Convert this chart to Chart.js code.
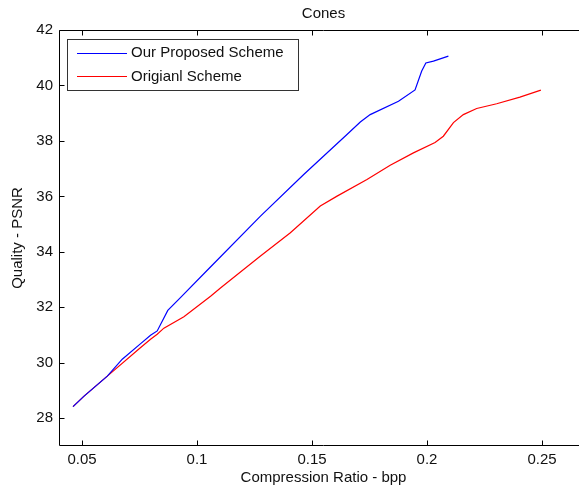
<!DOCTYPE html>
<html>
<head>
<meta charset="utf-8">
<script src="https://cdn.jsdelivr.net/npm/chart.js@4/dist/chart.umd.min.js"></script>
<style>
html,body{margin:0;padding:0;background:#fff;overflow:hidden;}
#wrap{width:579px;height:490px;overflow:hidden;position:relative;}
canvas{display:block;}
</style>
</head>
<body>
<div id="wrap"><canvas id="c" width="600" height="490"></canvas></div>
<script>
const chartTitle = 'Cones';
const xAxisTitle = 'Compression Ratio - bpp';
const yAxisTitle = 'Quality - PSNR';
const seriesNames = ['Our Proposed Scheme', 'Origianl Scheme'];

const xTicks = [0.05, 0.1, 0.15, 0.2, 0.25];
const xTickLabels = ['0.05', '0.1', '0.15', '0.2', '0.25'];
const yTicks = [28, 30, 32, 34, 36, 38, 40, 42];
const yTickLabels = ['28', '30', '32', '34', '36', '38', '40', '42'];

const proposedX = [0.0461, 0.0509, 0.0610, 0.0675, 0.0755, 0.0798, 0.0827, 0.0873, 0.0928, 0.1051, 0.1276, 0.1464, 0.1558, 0.1652, 0.1710, 0.1753, 0.1876, 0.1948, 0.1977, 0.1995, 0.2028, 0.2093];
const proposedY = [28.42, 28.80, 29.52, 30.13, 30.69, 30.99, 31.15, 31.89, 32.35, 33.39, 35.29, 36.79, 37.51, 38.23, 38.68, 38.95, 39.43, 39.84, 40.52, 40.81, 40.88, 41.06];

const originalX = [0.0461, 0.0509, 0.0610, 0.0755, 0.0798, 0.0827, 0.0856, 0.0943, 0.1059, 0.1102, 0.1276, 0.1406, 0.1536, 0.1609, 0.1739, 0.1840, 0.1941, 0.2035, 0.2071, 0.2115, 0.2158, 0.2216, 0.2303, 0.2404, 0.2495];
const originalY = [28.42, 28.80, 29.52, 30.55, 30.85, 31.03, 31.25, 31.66, 32.40, 32.70, 33.85, 34.69, 35.65, 36.01, 36.61, 37.12, 37.57, 37.94, 38.17, 38.66, 38.95, 39.17, 39.34, 39.58, 39.83];

const toPoints = (xs, ys) => xs.map((x, i) => ({x: x, y: ys[i]}));

const FONT = '"Liberation Sans", Arial, Helvetica, sans-serif';
const TEXT = '#111';

const framePlugin = {
  id: 'frame',
  afterDraw(chart) {
    const ctx = chart.ctx;
    const a = chart.chartArea;
    const xs = chart.scales.x, ys = chart.scales.y;
    ctx.save();
    ctx.strokeStyle = '#000';
    ctx.lineWidth = 1;
    const L = Math.round(a.left) + 0.5, T = Math.round(a.top) + 0.5, B = Math.round(a.bottom) - 0.5, R = Math.round(a.right) - 0.5;
    ctx.beginPath();
    ctx.moveTo(R, T); ctx.lineTo(L, T); ctx.lineTo(L, B); ctx.lineTo(R, B); ctx.lineTo(R, T);
    ctx.stroke();
    const tl = 5;
    ctx.beginPath();
    xs.ticks.forEach(t => {
      const px = Math.round(xs.getPixelForValue(t.value)) + 0.5;
      ctx.moveTo(px, B); ctx.lineTo(px, B - tl);
      ctx.moveTo(px, T); ctx.lineTo(px, T + tl);
    });
    ys.ticks.forEach(t => {
      const py = Math.round(ys.getPixelForValue(t.value)) + 0.5;
      ctx.moveTo(L, py); ctx.lineTo(L + tl, py);
      ctx.moveTo(R, py); ctx.lineTo(R - tl, py);
    });
    ctx.stroke();

    // title
    ctx.fillStyle = TEXT;
    ctx.font = '15px ' + FONT;
    ctx.textAlign = 'center';
    ctx.textBaseline = 'middle';
    ctx.fillText(chartTitle, (a.left + a.right) / 2, 14);

    // legend
    const lx = 67.5, ly = 39.5, lw = 231, lh = 51;
    ctx.fillStyle = '#fff';
    ctx.fillRect(lx, ly, lw, lh);
    ctx.strokeStyle = '#333';
    ctx.strokeRect(lx, ly, lw, lh);
    chart.data.datasets.forEach((ds, i) => {
      const yy = 52.5 + i * 23.5;
      ctx.strokeStyle = ds.borderColor;
      ctx.lineWidth = 1.2;
      ctx.beginPath();
      ctx.moveTo(77, Math.round(yy) + 0.5);
      ctx.lineTo(127, Math.round(yy) + 0.5);
      ctx.stroke();
      ctx.fillStyle = TEXT;
      ctx.textAlign = 'left';
      ctx.textBaseline = 'middle';
      ctx.fillText(ds.label, 131, yy + 0.5);
    });
    ctx.restore();
  }
};

new Chart(document.getElementById('c'), {
  type: 'line',
  data: {
    datasets: [
      {label: seriesNames[0], data: toPoints(proposedX, proposedY), borderColor: '#0000ff', borderWidth: 1.2, pointRadius: 0, tension: 0, fill: false},
      {label: seriesNames[1], data: toPoints(originalX, originalY), borderColor: '#ff0000', borderWidth: 1.2, pointRadius: 0, tension: 0, fill: false}
    ]
  },
  options: {
    responsive: false,
    devicePixelRatio: 1,
    animation: false,
    layout: {padding: {left: 0, top: 30, right: 12, bottom: 0}},
    plugins: {legend: {display: false}, tooltip: {enabled: false}, title: {display: false}},
    scales: {
      x: {
        type: 'linear',
        min: 0.04,
        max: 0.27,
        grid: {display: false, drawTicks: false},
        border: {display: false},
        afterBuildTicks: s => { s.ticks = xTicks.map(v => ({value: v})); },
        afterFit: s => { s.height = 44; },
        ticks: {
          padding: 5,
          color: TEXT,
          font: {family: FONT, size: 15},
          maxRotation: 0,
          callback: (v, i) => xTickLabels[i]
        },
        title: {display: true, text: xAxisTitle, color: TEXT, font: {family: FONT, size: 15}, padding: {top: 0, bottom: 3}}
      },
      y: {
        type: 'linear',
        min: 27,
        max: 42,
        grid: {display: false, drawTicks: false},
        border: {display: false},
        afterBuildTicks: s => { s.ticks = yTicks.map(v => ({value: v})); },
        afterFit: s => { s.width = 59; },
        ticks: {
          padding: 6,
          color: TEXT,
          font: {family: FONT, size: 15},
          callback: (v, i) => yTickLabels[i]
        },
        title: {display: true, text: yAxisTitle, color: TEXT, font: {family: FONT, size: 15}, padding: {top: 9, bottom: 0}}
      }
    }
  },
  plugins: [framePlugin]
});
</script>
</body>
</html>
